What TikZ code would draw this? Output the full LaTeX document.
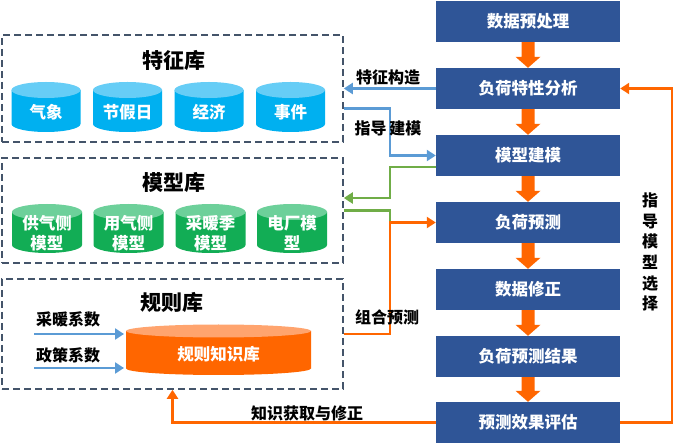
\documentclass[tikz,border=0pt]{standalone}
\usepackage{fontspec}
\setmainfont{Noto Sans CJK SC}
\usetikzlibrary{arrows.meta,calc}
\definecolor{boxblue}{HTML}{2F5597}
\definecolor{orangeC}{RGB}{255,102,0}
\definecolor{lineblue}{HTML}{5B9BD5}
\definecolor{linegreen}{HTML}{70AD47}
\definecolor{dashgray}{HTML}{44546A}
\definecolor{cylblue}{HTML}{00B0F0}
\definecolor{cylbluetop}{HTML}{66CDF6}
\definecolor{cylgreen}{HTML}{12AD55}
\definecolor{cylgreentop}{HTML}{6DD09A}
\definecolor{cylorange}{HTML}{FF6600}
\definecolor{cylorangetop}{HTML}{FFA46E}
\newcommand\mycyl[7]{%
  \fill[#6] ({#1-#4},#2) -- ({#1-#4},#3) arc[start angle=180,end angle=360,x radius=#4pt,y radius=#5pt] -- ({#1+#4},#2) -- cycle;
  \fill[#7] (#1,#2) ellipse[x radius=#4pt,y radius=#5pt];}
\newcommand\fatarr[2]{%
  \fill[orangeC] ($(#1.south)+(-6.5,0)$) -- ($(#2.north)+(-6.5,-11)$) -- ($(#2.north)+(-12.5,-11)$) -- (#2.north) -- ($(#2.north)+(12.5,-11)$) -- ($(#2.north)+(6.5,-11)$) -- ($(#1.south)+(6.5,0)$) -- cycle;}
\begin{document}
\begin{tikzpicture}[x=1pt,y=-1pt,
  stepbox/.style={fill=boxblue, text=white, minimum width=184pt, minimum height=41pt, inner sep=0pt, font=\bfseries\fontsize{16.5}{20}\selectfont},
  dashbox/.style={draw=dashgray, dash pattern=on 7pt off 4pt, line width=1.6pt, minimum width=341pt, inner sep=0pt},
  cyltext/.style={text=white, align=center, inner sep=0pt, font=\bfseries\fontsize{16.5}{20}\selectfont},
  lbl/.style={text=black, inner sep=0pt, font=\bfseries\fontsize{16}{20}\selectfont},
  libtitle/.style={text=black, inner sep=0pt, font=\bfseries\fontsize{21}{24}\selectfont},
  blueln/.style={draw=lineblue, line width=2.6pt},
  greenln/.style={draw=linegreen, line width=2.6pt},
  orangeln/.style={draw=orangeC, line width=2.6pt},
  tip/.style={-{Triangle[length=9pt,width=11pt]}}
]
\useasboundingbox (0,0) rectangle (675,446);

% library boxes
\node[dashbox, minimum height=107pt] (feat) at (172.5,88.5) {};
\node[dashbox, minimum height=105pt] (model) at (172.5,210.5) {};
\node[dashbox, minimum height=110pt] (rule) at (172.5,334) {};

\node[libtitle] (t1) at (174,60) {特征库};
\node[libtitle] (t2) at (174,182) {模型库};
\node[libtitle] (t3) at (172,302) {规则库};

% feature cylinders
\mycyl{46}{90}{124}{34.5}{8}{cylblue}{cylbluetop}
\mycyl{127.5}{90}{124}{34.5}{8}{cylblue}{cylbluetop}
\mycyl{209}{90}{124}{34.5}{8}{cylblue}{cylbluetop}
\mycyl{290.5}{90}{124}{34.5}{8}{cylblue}{cylbluetop}
\node[cyltext] (f1) at (46,112) {气象};
\node[cyltext] (f2) at (127.5,112) {节假日};
\node[cyltext] (f3) at (209,112) {经济};
\node[cyltext] (f4) at (290.5,112) {事件};

% model cylinders
\mycyl{47}{212}{245}{35}{8}{cylgreen}{cylgreentop}
\mycyl{128.5}{212}{245}{35}{8}{cylgreen}{cylgreentop}
\mycyl{210.5}{212}{245}{35}{8}{cylgreen}{cylgreentop}
\mycyl{292}{212}{245}{35}{8}{cylgreen}{cylgreentop}
\node[cyltext] (m1) at (47,233) {供气侧\\模型};
\node[cyltext] (m2) at (128.5,233) {用气侧\\模型};
\node[cyltext] (m3) at (210.5,233) {采暖季\\模型};
\node[cyltext] (m4) at (292,233) {电厂模\\型};

% rule cylinder
\mycyl{218.5}{331}{368.5}{92.5}{6.5}{cylorange}{cylorangetop}
\node[cyltext] (rk) at (218.5,354) {规则知识库};
\node[lbl] (c1) at (68,319) {采暖系数};
\node[lbl] (c2) at (68,355) {政策系数};
\coordinate (c1s) at (34,334);
\coordinate (c1e) at (124,334);
\coordinate (c2s) at (34,368);
\coordinate (c2e) at (124,368);
\draw[blueln, line width=2.2pt, tip] (c1s) -- (c1e);
\draw[blueln, line width=2.2pt, tip] (c2s) -- (c2e);

% process boxes
\node[stepbox] (b1) at (528,21.5) {数据预处理};
\node[stepbox] (b2) at (528,88.5) {负荷特性分析};
\node[stepbox] (b3) at (528,155.5) {模型建模};
\node[stepbox] (b4) at (528,222.5) {负荷预测};
\node[stepbox] (b5) at (528,289.5) {数据修正};
\node[stepbox] (b6) at (528,356.5) {负荷预测结果};
\node[stepbox] (b7) at (528,422.5) {预测效果评估};

\fatarr{b1}{b2}
\fatarr{b2}{b3}
\fatarr{b3}{b4}
\fatarr{b4}{b5}
\fatarr{b5}{b6}
\fatarr{b6}{b7}

% junction coordinates
\coordinate (jx) at (390,0);
\coordinate (jr) at (672,0);
\coordinate (gtarget) at ([yshift=12.5pt]model.east);

% connectors
\draw[blueln, tip] (b2.west) -- (b2.west -| feat.east);
\draw[blueln, tip] ([yshift=-20pt]feat.east) -| (jx |- b3.west) -- (b3.west);
\draw[greenln, tip] ([yshift=-11.5pt]b3.west) -| (jx |- gtarget) -- (gtarget);
\draw[greenln] (model.east) -| (jx |- b4.west);
\draw[orangeln, tip] (rule.east) -| (jx |- b4.west) -- (b4.west);
\draw[orangeln, tip] (b7.west) -| (rule.south);
\draw[orangeln, tip] (b7.east) -| (jr |- b2.east) -- (b2.east);

% labels
\node[lbl] (l1) at (388,77) {特征构造};
\node[lbl] (l2) at (388,128) {指导\,建模};
\node[lbl] (l3) at (387,317) {组合预测};
\node[lbl] (l4) at (307,413) {知识获取与修正};
\node[lbl, align=center, font=\bfseries\fontsize{16}{20.7}\selectfont] (l5) at (650,252) {指\\导\\模\\型\\选\\择};
\end{tikzpicture}
\end{document}
